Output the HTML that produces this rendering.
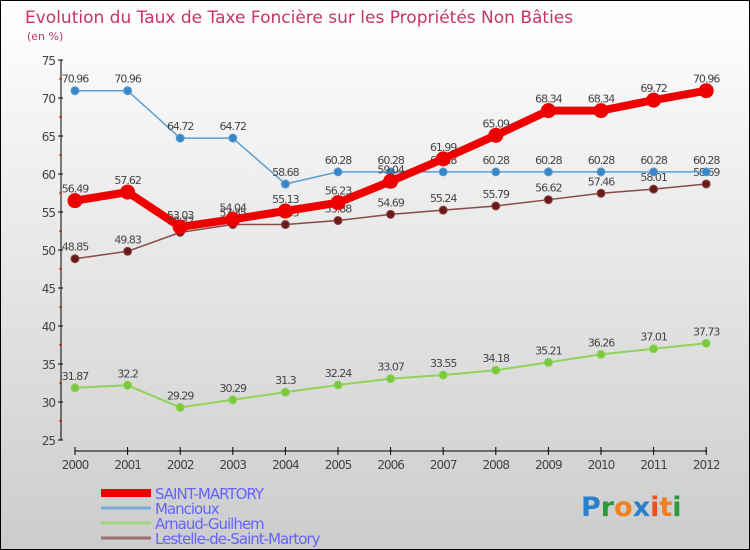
<!DOCTYPE html>
<html><head><meta charset="utf-8"><style>
body{margin:0}
#c{width:748px;height:548px;border:1px solid #000;background:linear-gradient(#fff,#ccc);position:relative;font-family:"DejaVu Sans","Liberation Sans",sans-serif;overflow:hidden}
</style></head><body>
<div id="c">
<svg id="s" width="748" height="548" style="position:absolute;left:0;top:0"></svg>
</div>
<script>
const years=["2000","2001","2002","2003","2004","2005","2006","2007","2008","2009","2010","2011","2012"];
const yTicks=[25,30,35,40,45,50,55,60,65,70,75];
const saintMartory=[56.49,57.62,53.03,54.04,55.13,56.23,59.04,61.99,65.09,68.34,68.34,69.72,70.96];
const mancioux=[70.96,70.96,64.72,64.72,58.68,60.28,60.28,60.28,60.28,60.28,60.28,60.28,60.28];
const arnaud=[31.87,32.2,29.29,30.29,31.3,32.24,33.07,33.55,34.18,35.21,36.26,37.01,37.73];
const lestelle=[48.85,49.83,52.32,53.35,53.35,53.88,54.69,55.24,55.79,56.62,57.46,58.01,58.69];
const NS="http://www.w3.org/2000/svg",s=document.getElementById('s');
const X=i=>74+i*52.6, Y=v=>59+(75-v)*7.6;
function el(t,a,txt){const e=document.createElementNS(NS,t);for(const k in a)e.setAttribute(k,a[k]);if(txt!=null)e.textContent=txt;s.appendChild(e);return e;}
let t=el('text',{x:24,y:22,fill:'#c8336a','font-size':17},'Evolution du Taux de Taxe Foncière sur les Propriétés Non Bâties');


t=el('text',{x:26,y:39,fill:'#c8336a','font-size':11},'(en %)');


let ax=el('line',{x1:60,y1:Y(75),x2:60,y2:Y(25),stroke:'#000','stroke-width':1});


ax=el('line',{x1:74,y1:450,x2:706,y2:450,stroke:'#000','stroke-width':1});


yTicks.forEach((v,i)=>{
 el('line',{x1:57,x2:62,y1:Y(v),y2:Y(v),stroke:'#000'});
 if(i<yTicks.length-1){const m=el('line',{x1:58,x2:61,y1:Y(v+2.5),y2:Y(v+2.5),stroke:'#d00'});}
 const l=el('text',{x:54,y:Y(v)+5,'text-anchor':'end','font-size':12,fill:'#444','letter-spacing':'-1'},String(v));
 
 
});
years.forEach((y,i)=>{
 el('line',{x1:X(i),x2:X(i),y1:446,y2:454,stroke:'#000'});
 const l=el('text',{x:X(i),y:468,'text-anchor':'middle','font-size':12,fill:'#444','letter-spacing':'-1'},y);
 
 
});
function series(d,color,w,r,dot,name){
 const p=el('polyline',{points:d.map((v,i)=>X(i)+','+Y(v)).join(' '),fill:'none',stroke:color,'stroke-width':w,'stroke-linejoin':'round'});
 
 
 d.forEach((v,i)=>{
  const c=el('circle',{cx:X(i),cy:Y(v),r:r,fill:dot,stroke:color,'stroke-width':1});
  
  
  const l=el('text',{x:X(i),y:Y(v)-8,'text-anchor':'middle','font-size':11,fill:'#444','letter-spacing':'-1'},String(v));
  
  
 });
}
series(arnaud,'#8ed45a',2,4,'#7cc740','arnaud-guilhem');
series(lestelle,'#8a4848',1.5,4,'#6b1a1a','lestelle');
series(mancioux,'#5a9fd4',1.5,4,'#3a86c4','mancioux');
series(saintMartory,'#ee0000',8,7,'#ee0000','saint-martory');
const leg=[['SAINT-MARTORY','#ee0000',8],['Mancioux','#7aaed4',3],['Arnaud-Guilhem','#9ed87a',3],['Lestelle-de-Saint-Martory','#9a7070',3]];
leg.forEach((L,i)=>{
 const y=492+i*15;
 const ln=el('line',{x1:100,x2:150,y1:y,y2:y,stroke:L[1],'stroke-width':L[2]});
 
 
 const tx=el('text',{x:154,y:y+6,'font-size':15,fill:'#6464ff','letter-spacing':'-1'},L[0]);
 
 
});
const lg=el('text',{x:580,y:515,'font-size':27,'font-weight':'bold'},'');


[['P','#2a80d0'],['r','#2a9a3a'],['o','#f08020'],['x','#2a80d0'],['i','#f05020'],['t','#f08020'],['i','#2a9a3a']].forEach(p=>{const ts=document.createElementNS(NS,'tspan');ts.setAttribute('fill',p[1]);ts.textContent=p[0];lg.appendChild(ts);});
</script>
</body></html>
